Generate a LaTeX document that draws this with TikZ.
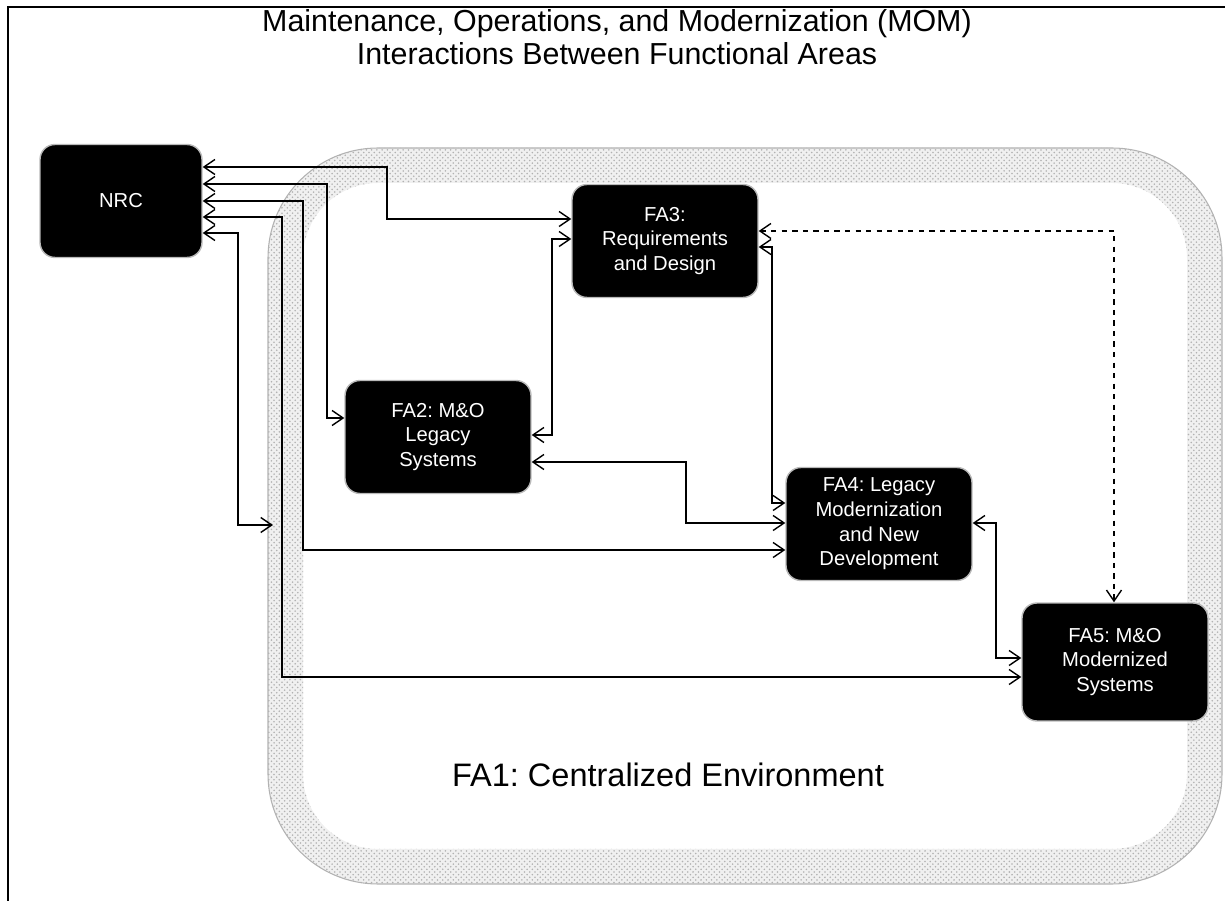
\documentclass[tikz,border=0pt]{standalone}
\usepackage{fontspec}
\setmainfont{Liberation Sans}
\usetikzlibrary{arrows.meta, patterns}
\frenchspacing

\tikzset{
  fabox/.style={draw=gray!55, line width=0.8pt, fill=black, text=white, rounded corners=0.3cm,
    align=center, minimum width=3.72cm, minimum height=2.26cm, inner sep=2pt,
    font=\fontsize{11.5}{14}\selectfont},
  link/.style={line width=0.8pt, <->},
}

\begin{document}
\begin{tikzpicture}[x=0.02cm, y=-0.02cm, >={Straight Barb[length=2.2mm,width=3mm]}]
    \useasboundingbox (0,0) rectangle (1225,901);

    % Frame
    \draw[line width=0.8pt] (8,901) -- (8,7) -- (1225,7);

    % Title
    \node[align=center, font=\fontsize{17.3}{18.8}\selectfont] (title) at (617,37)
        {Maintenance, Operations, and Modernization (MOM)\\Interactions Between Functional Areas};

    % Centralized environment (FA1) band
    \fill[gray!12, even odd rule] [rounded corners=2.2cm] (268,148) rectangle (1222,884)
        [rounded corners=1.5cm] (303,183) rectangle (1187,849);
    \fill[pattern=crosshatch dots, pattern color=gray!60, even odd rule] [rounded corners=2.2cm] (268,148) rectangle (1222,884)
        [rounded corners=1.5cm] (303,183) rectangle (1187,849);
    \draw[gray!60, line width=0.6pt, rounded corners=2.2cm] (268,148) rectangle (1222,884);
    \node[font=\fontsize{18.5}{22}\selectfont] (fa1) at (668,775) {FA1: Centralized Environment};
    \coordinate (fa1edge) at (273,525);

    % Functional areas
    \node[fabox, minimum width=3.24cm] (nrc) at (121,201) {NRC};
    \node[fabox] (fa3) at (665,241) {FA3:\\Requirements\\and Design};
    \node[fabox] (fa2) at (438,437) {FA2: M\&O\\Legacy\\Systems};
    \node[fabox] (fa4) at (879,524) {FA4: Legacy\\Modernization\\and New\\Development};
    \node[fabox, minimum height=2.36cm] (fa5) at (1115,662) {FA5: M\&O\\Modernized\\Systems};

    % NRC links
    \draw[link] (nrc.east |- 0,167) -| (387,219) -- (fa3.west |- 0,219);
    \draw[link] (nrc.east |- 0,184) -| (327,418) -- (fa2.west |- 0,418);
    \draw[link] (nrc.east |- 0,201) -| (303,550) -- (fa4.west |- 0,550);
    \draw[link] (nrc.east |- 0,217) -| (282,677) -- (fa5.west |- 0,677);
    \draw[link] (nrc.east |- 0,233) -| (238,525) -- (fa1edge);

    % Links between functional areas
    \draw[link] (fa3.west |- 0,239) -| (552,435) -- (fa2.east |- 0,435);
    \draw[link] (fa2.east |- 0,462) -| (686,523) -- (fa4.west |- 0,523);
    \draw[link] (fa3.east |- 0,247) -| (772,503) -- (fa4.west |- 0,503);
    \draw[link] (fa4.east |- 0,523) -| (996,658) -- (fa5.west |- 0,658);
    \draw[link, dashed] (fa3.east |- 0,231) -| (fa5.north -| 1114,0);
\end{tikzpicture}
\end{document}
